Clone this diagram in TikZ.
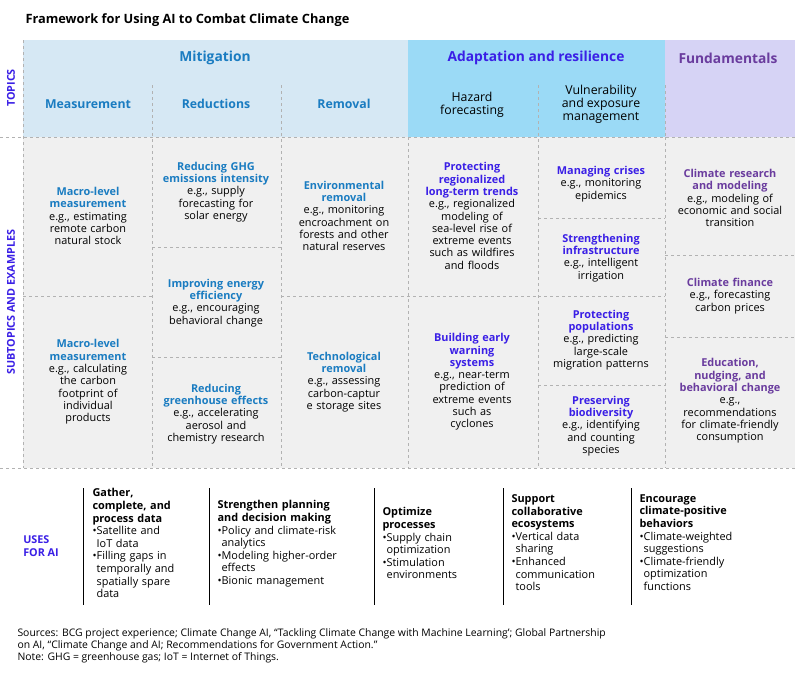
\documentclass[tikz,border=0pt]{standalone}
\usepackage{fontspec}
\setmainfont{Open Sans}
\lefthyphenmin=64
\begin{document}
\begin{tikzpicture}[x=1pt,y=-1pt,
 dsh/.style={draw=black!30,dashed,line width=0.9pt},
 cell/.style={align=center,font=\fontsize{10.9}{12.3}\selectfont,text width=#1},
 cell/.default=118pt,
 use/.style={align=left,anchor=north west,font=\fontsize{10.9}{12.6}\selectfont,text width=#1},
]
\definecolor{mitblue}{HTML}{1A7CC1}
\definecolor{adblue}{HTML}{3A1FE6}
\definecolor{fpurple}{HTML}{6A3C9E}
\colorlet{mitbg}{mitblue!18}
\definecolor{adbg}{HTML}{9BDAF6}
\definecolor{fbg}{HTML}{D6D3F5}
\definecolor{graybg}{HTML}{F0F0F0}
\useasboundingbox (0,0) rectangle (795,688);
\fill[white] (0,0) rectangle (795,688);
\node[anchor=west,font=\fontsize{12.8}{14}\selectfont\bfseries] (title) at (22,20) {Framework for Using AI to Combat Climate Change};
% backgrounds
\fill[mitbg] (23,40) rectangle (408,137);
\fill[adbg] (408,40) rectangle (665,137);
\fill[fbg] (665,40) rectangle (795,137);
\fill[graybg] (23,137) rectangle (795,468);
% dashed lines
\draw[dsh] (0,137) -- (795,137);
\draw[dsh] (0,468) -- (795,468);
\draw[dsh] (23,40) -- (23,468);
\foreach \x in {152,281} \draw[dsh] (\x,85) -- (\x,468);
\foreach \x in {408,665} \draw[dsh] (\x,137) -- (\x,468);
\draw[dsh] (538,85) -- (538,468);
\draw[dsh] (665,85) -- (665,137);
\draw[dsh] (23,296) -- (152,296);
\draw[dsh] (152,247) -- (281,247);
\draw[dsh] (152,357) -- (281,357);
\draw[dsh] (281,296) -- (538,296);
\draw[dsh] (538,218) -- (665,218);
\draw[dsh] (538,296) -- (665,296);
\draw[dsh] (538,385) -- (665,385);
\draw[dsh] (665,255) -- (795,255);
\draw[dsh] (665,337) -- (795,337);
% side labels
\node[rotate=90,text=adblue,font=\fontsize{10.8}{12}\selectfont\bfseries] (lt) at (11,88) {TOPICS};
\node[rotate=90,text=adblue,font=\fontsize{10.8}{12}\selectfont\bfseries] (ls) at (11,302) {SUBTOPICS AND EXAMPLES};
% headers
\node[text=mitblue,font=\fontsize{13.8}{15}\selectfont\bfseries] (mit) at (215,58) {Mitigation};
\node[text=adblue,font=\fontsize{13.8}{15}\selectfont\bfseries] (ad) at (536,58) {Adaptation and resilience};
\node[text=fpurple,font=\fontsize{13.8}{15}\selectfont\bfseries] (fu) at (728,58) {Fundamentals};
\node[text=mitblue,font=\fontsize{12.3}{13}\selectfont\bfseries] (meas) at (88,104) {Measurement};
\node[text=mitblue,font=\fontsize{12.3}{13}\selectfont\bfseries] (red) at (216,104) {Reductions};
\node[text=mitblue,font=\fontsize{12.3}{13}\selectfont\bfseries] (rem) at (344,104) {Removal};
\node[align=center,font=\fontsize{12.3}{13}\selectfont] (haz) at (472,105) {Hazard\\forecasting};
\node[align=center,font=\fontsize{12.3}{13}\selectfont] (vul) at (601,104) {Vulnerability\\and exposure\\management};
% cells
\node[cell] (c1) at (88,216) {{\color{mitblue}\bfseries Macro-level\\measurement}\\e.g., estimating\\remote carbon\\natural stock};
\node[cell] (c2) at (88,382) {{\color{mitblue}\bfseries Macro-level\\measurement}\\e.g., calculating\\the carbon\\footprint of\\individual\\products};
\node[cell=126pt] (c3) at (216,192) {{\color{mitblue}\bfseries Reducing GHG\\emissions intensity}\\e.g., supply\\forecasting for\\solar energy};
\node[cell=126pt] (c4) at (216,303) {{\color{mitblue}\bfseries Improving energy\\efficiency}\\e.g., encouraging\\behavioral change};
\node[cell=126pt] (c5) at (216,414) {{\color{mitblue}\bfseries Reducing\\greenhouse effects}\\e.g., accelerating\\aerosol and\\chemistry research};
\node[cell=126pt] (c6) at (344,216) {{\color{mitblue}\bfseries Environmental\\removal}\\e.g., monitoring\\encroachment on\\forests and other\\natural reserves};
\node[cell] (c7) at (344,382) {{\color{mitblue}\bfseries Technological\\removal}\\e.g., assessing\\carbon-captur\\e storage sites};
\node[cell=126pt] (c8) at (472,216) {{\color{adblue}\bfseries Protecting\\regionalized\\long-term trends}\\e.g., regionalized\\modeling of\\sea-level rise of\\extreme events\\such as wildfires\\and floods};
\node[cell] (c9) at (472,382) {{\color{adblue}\bfseries Building early\\warning\\systems}\\e.g., near-term\\prediction of\\extreme events\\such as\\cyclones};
\node[cell=126pt] (c10) at (601,184) {{\color{adblue}\bfseries Managing crises}\\e.g., monitoring\\epidemics};
\node[cell] (c11) at (601,258) {{\color{adblue}\bfseries Strengthening\\infrastructure}\\e.g., intelligent\\irrigation};
\node[cell=126pt] (c12) at (601,340) {{\color{adblue}\bfseries Protecting\\populations}\\e.g., predicting\\large-scale\\migration patterns};
\node[cell] (c13) at (601,426) {{\color{adblue}\bfseries Preserving\\biodiversity}\\e.g., identifying\\and counting\\species};
\node[cell=128pt] (c14) at (730,198) {{\color{fpurple}\bfseries Climate research\\and modeling}\\e.g., modeling of\\economic and social\\transition};
\node[cell] (c15) at (730,296) {{\color{fpurple}\bfseries Climate finance}\\e.g., forecasting\\carbon prices};
\node[cell=128pt] (c16) at (730,401) {{\color{fpurple}\bfseries Education,\\nudging, and\\behavioral change}\\e.g.,\\recommendations\\for climate-friendly\\consumption};
% uses
\node[align=left,text=adblue,font=\fontsize{10.8}{12.5}\selectfont\bfseries] (uses) at (41,546) {USES\\FOR AI};
\foreach \x in {83,209,374,503,631} \draw[line width=0.9pt] (\x,488) -- (\x,605);
\node[use=122pt] (u1) at (89,485) {\textbf{Gather,\\complete, and\\process data}\\\textbullet Satellite and\\\phantom{\textbullet}IoT data\\\textbullet Filling gaps in\\\phantom{\textbullet}temporally and\\\phantom{\textbullet}spatially spare\\\phantom{\textbullet}data};
\node[use=165pt] (u2) at (214,497) {\textbf{Strengthen planning\\and decision making}\\\textbullet Policy and climate-risk\\\phantom{\textbullet}analytics\\\textbullet Modeling higher-order\\\phantom{\textbullet}effects\\\textbullet Bionic management};
\node[use=124pt] (u3) at (379,504) {\textbf{Optimize\\processes}\\\textbullet Supply chain\\\phantom{\textbullet}optimization\\\textbullet Stimulation\\\phantom{\textbullet}environments};
\node[use=124pt] (u4) at (508,491) {\textbf{Support\\collaborative\\ecosystems}\\\textbullet Vertical data\\\phantom{\textbullet}sharing\\\textbullet Enhanced\\\phantom{\textbullet}communication\\\phantom{\textbullet}tools};
\node[use=160pt] (u5) at (636,491) {\textbf{Encourage\\climate-positive\\behaviors}\\\textbullet Climate-weighted\\\phantom{\textbullet}suggestions\\\textbullet Climate-friendly\\\phantom{\textbullet}optimization\\\phantom{\textbullet}functions};
\node[anchor=north west,align=left,font=\fontsize{10.4}{12.2}\selectfont] (src) at (14,625) {Sources: BCG project experience; Climate Change AI, “Tackling Climate Change with Machine Learning’; Global Partnership\\on AI, “Climate Change and AI; Recommendations for Government Action.”\\Note: GHG = greenhouse gas; IoT = Internet of Things.};
\end{tikzpicture}
\end{document}
